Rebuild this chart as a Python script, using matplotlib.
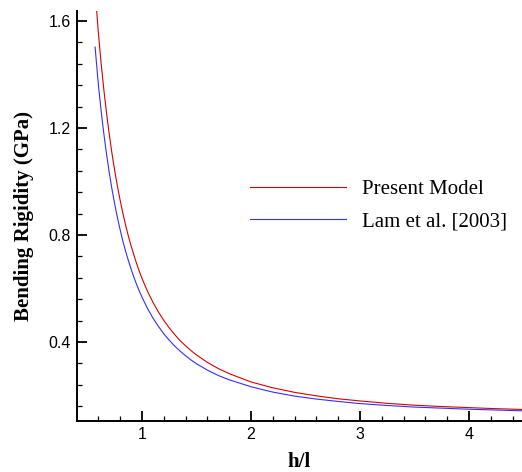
import matplotlib
matplotlib.use("Agg")
import matplotlib.pyplot as plt
from matplotlib.ticker import MultipleLocator

# h/l values and bending rigidity (GPa)
h_l = [0.57, 0.60, 0.625, 0.65, 0.675, 0.70, 0.725, 0.75, 0.775, 0.80,
       0.825, 0.85, 0.875, 0.90, 0.925, 0.95, 0.975, 1.00, 1.05, 1.10,
       1.15, 1.20, 1.25, 1.30, 1.35, 1.40, 1.45, 1.50, 1.60, 1.70,
       1.80, 2.00, 2.20, 2.40, 2.60, 2.80, 3.00, 3.25, 3.50, 3.75,
       4.00, 4.25, 4.50]
present_model = [1.711, 1.556, 1.443, 1.344, 1.255, 1.176, 1.104, 1.040, 0.982, 0.929,
                 0.881, 0.837, 0.796, 0.760, 0.726, 0.694, 0.665, 0.638, 0.590, 0.549,
                 0.513, 0.481, 0.453, 0.428, 0.405, 0.386, 0.368, 0.352, 0.324, 0.301,
                 0.282, 0.251, 0.229, 0.212, 0.199, 0.188, 0.180, 0.171, 0.164, 0.159,
                 0.155, 0.151, 0.148]
lam_2003 = [1.502, 1.362, 1.265, 1.179, 1.102, 1.033, 0.971, 0.915, 0.865, 0.819,
            0.777, 0.739, 0.705, 0.673, 0.643, 0.616, 0.591, 0.568, 0.526, 0.490,
            0.459, 0.431, 0.407, 0.385, 0.366, 0.349, 0.333, 0.319, 0.295, 0.275,
            0.259, 0.233, 0.213, 0.198, 0.187, 0.178, 0.170, 0.163, 0.157, 0.153,
            0.149, 0.146, 0.143]
x_ticks = [1, 2, 3, 4]
y_ticks = [0.4, 0.8, 1.2, 1.6]

W, H = 522, 472
fig = plt.figure(figsize=(W / 100, H / 100), dpi=100)
ax = fig.add_axes([77 / W, 1 - 421 / H, 1 - 77 / W, (421 - 11) / H])

ax.plot(h_l, present_model, color="#d80000", lw=0.8, label="Present Model")
ax.plot(h_l, lam_2003, color="#3030ff", lw=0.8, label="Lam et al. [2003]")

ax.set_xlim(0.404, 4.486)
ax.set_ylim(0.105, 1.637)
ax.set_xticks(x_ticks)
ax.set_yticks(y_ticks)
ax.set_xticklabels([str(v) for v in x_ticks])
ax.set_yticklabels([f"{v:.1f}" for v in y_ticks])
ax.xaxis.set_minor_locator(MultipleLocator(0.2))
ax.yaxis.set_minor_locator(MultipleLocator(0.08))

for side in ("top", "right"):
    ax.spines[side].set_visible(False)
for side in ("left", "bottom"):
    ax.spines[side].set_linewidth(1.4)

ax.tick_params(which="major", direction="in", length=7, width=1.3, pad=4.5,
               labelsize=11.5, labelfontfamily="Liberation Sans")
ax.tick_params(which="minor", direction="in", length=3.6, width=0.9)

lab_font = {"family": "Liberation Serif", "weight": "bold", "size": 15}
ax.set_xlabel("h/l", fontdict=lab_font, labelpad=7)
ax.set_ylabel("Bending Rigidity (GPa)", fontdict=lab_font, labelpad=10.5)

ax.legend(loc="center left", bbox_to_anchor=(250 / W, 1 - 205.5 / H),
          bbox_transform=fig.transFigure, frameon=False, borderpad=0,
          borderaxespad=0, handlelength=4.6, handletextpad=0.8,
          labelspacing=0.6, prop={"family": "Liberation Serif", "size": 15})

fig.savefig("out.png", dpi=100)
